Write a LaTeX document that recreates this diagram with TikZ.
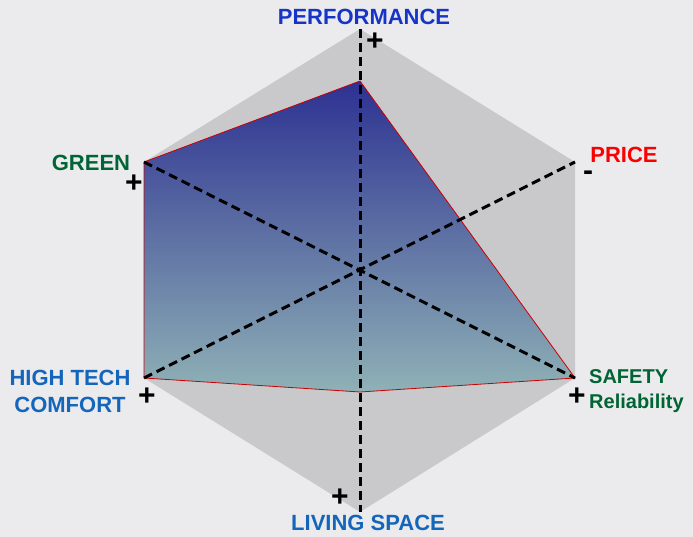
\documentclass[tikz,border=0pt]{standalone}
\usepackage{fontspec}
\setmainfont{Liberation Sans}
\usepackage{tikz}

\definecolor{fond}{RGB}{235,235,238}
\definecolor{hexa}{RGB}{201,201,203}
\definecolor{bleuperf}{RGB}{22,52,200}
\definecolor{bleuclair}{RGB}{20,102,186}
\definecolor{vert}{RGB}{0,100,52}
\definecolor{rouge}{RGB}{250,0,0}
\definecolor{haut}{RGB}{45,49,146}
\definecolor{bas}{RGB}{143,177,182}

\begin{document}
\begin{tikzpicture}[x=1pt,y=-1pt,
    axe/.style={black,line width=3pt,dash pattern=on 9pt off 5pt},
    lab/.style={font=\bfseries\fontsize{22}{27}\selectfont,inner sep=0pt},
    signe/.style={font=\bfseries\fontsize{30}{30}\selectfont,inner sep=0pt}]
  % fond
  \fill[fond] (0,0) rectangle (693,537);
  \useasboundingbox (0,0) rectangle (693,537);
  % sommets de l'hexagone
  \coordinate (perf) at (360,29);
  \coordinate (price) at (575,162);
  \coordinate (safety) at (575,378);
  \coordinate (living) at (360,512);
  \coordinate (hightech) at (144,378);
  \coordinate (green) at (144,162);
  \fill[hexa] (perf) -- (price) -- (safety) -- (living) -- (hightech) -- (green) -- cycle;
  % valeurs
  \coordinate (vperf) at (360,81);
  \coordinate (vliving) at (360,392);
  \draw[red!80!black,line width=0.8pt,top color=haut,bottom color=bas]
    (vperf) -- (safety) -- (vliving) -- (hightech) -- (green) -- cycle;
  % axes
  \draw[axe] (perf) -- (living);
  \draw[axe] (green) -- (safety);
  \draw[axe] (hightech) -- (price);
  % textes
  \node[lab,text=bleuperf] (tperf) at (364,17) {PERFORMANCE};
  \node[lab,text=vert] (tgreen) at (91,163) {GREEN};
  \node[lab,text=rouge] (tprice) at (624,155) {PRICE};
  \node[lab,text=bleuclair,align=center] (thigh) at (70,391) {HIGH TECH\\COMFORT};
  \node[lab,text=vert,align=left,anchor=west,font=\bfseries\fontsize{20}{25}\selectfont]
    (tsafety) at (589,391) {SAFETY\\Reliability};
  \node[lab,text=bleuclair] (tliving) at (368,523) {LIVING SPACE};
  % signes
  \node[signe] (sperf) at (375,42) {+};
  \node[signe] (sgreen) at (134,184) {+};
  \node[signe] (sprice) at (588,176) {-};
  \node[signe] (shigh) at (147,397) {+};
  \node[signe] (ssafety) at (577,397) {+};
  \node[signe] (sliving) at (340,498) {+};
\end{tikzpicture}
\end{document}
